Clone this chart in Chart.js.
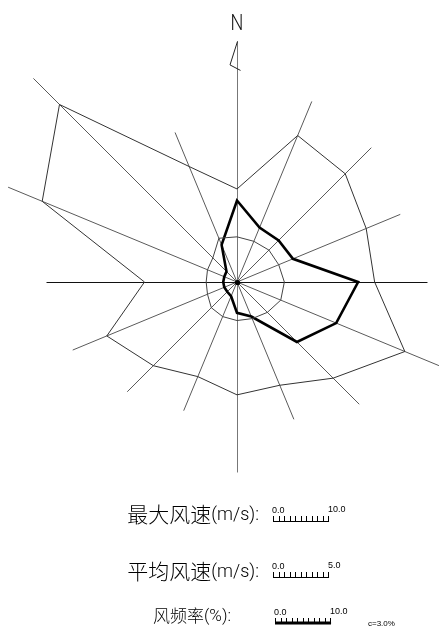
<!DOCTYPE html>
<html>
<head>
<meta charset="utf-8">
<script src="https://cdn.jsdelivr.net/npm/chart.js@4/dist/chart.umd.min.js"></script>
<style>
  html, body { margin: 0; padding: 0; background: #fff; }
  #wrap { width: 445px; height: 628px; position: relative; }
</style>
</head>
<body>
<div id="wrap"><canvas id="rose"></canvas></div>
<script>
// 16 compass sectors, clockwise from north
const directions = ['N','NNE','NE','ENE','E','ESE','SE','SSE','S','SSW','SW','WSW','W','WNW','NW','NNW'];
// maximum wind speed per sector (m/s)
const maxSpeed  = [16.9, 28.8, 27.8, 25.4, 25.0, 33.0, 24.7, 20.3, 20.5, 18.6, 21.5, 25.6, 16.8, 38.3, 45.6, 22.7];
// mean wind speed per sector (m/s)
const avgSpeed  = [4.1, 4.0, 4.1, 4.1, 4.3, 4.3, 3.9, 3.6, 3.5, 3.4, 3.3, 2.9, 2.8, 2.9, 3.1, 4.3];
// wind direction frequency per sector (%)
const frequency = [14.8, 10.7, 10.7, 11.0, 22.0, 19.5, 15.4, 6.8, 5.6, 2.8, 2.5, 2.5, 2.5, 2.5, 2.7, 7.3];
const calmPct = 3.0;

// legend rows: caption, unit, full-scale value of the ruler
const legendNames  = ['最大风速', '平均风速', '风频率'];
const legendUnits  = ['(m/s):', '(m/s):', '(%):'];
const legendFull   = [10.0, 5.0, 10.0];
const legendLabels = [['0.0', '10.0'], ['0.0', '5.0'], ['0.0', '10.0']];

// every ruler spans RULER units of the radial scale
const RULER = 10;
const toUnits = (arr, full) => arr.map(v => v * RULER / full);

const SPOKE_EXT = 6.7;   // how far a sector spoke runs past its max-speed vertex
const CROSS_LEN = 34.6;  // E, S, W arms of the compass cross
const NORTH_LEN = 43.7;  // north arm, carries the arrow

const roseDecor = {
  id: 'roseDecor',
  beforeDatasetsDraw(chart) {
    const s = chart.scales.r;
    const ctx = chart.ctx;
    const cx = s.xCenter, cy = s.yCenter;
    const maxU = toUnits(maxSpeed, legendFull[0]);
    ctx.save();
    // sector spokes
    ctx.lineWidth = 1;
    ctx.strokeStyle = '#5a5a5a';
    directions.forEach((d, i) => {
      if (i % 4 === 0) return;
      const p = s.getPointPositionForValue(i, maxU[i] + SPOKE_EXT);
      ctx.beginPath();
      ctx.moveTo(cx, cy);
      ctx.lineTo(p.x, p.y);
      ctx.stroke();
    });
    // compass cross
    const n = s.getPointPositionForValue(0, NORTH_LEN);
    const e = s.getPointPositionForValue(4, CROSS_LEN);
    const so = s.getPointPositionForValue(8, CROSS_LEN);
    const w = s.getPointPositionForValue(12, CROSS_LEN);
    ctx.strokeStyle = '#777';
    ctx.beginPath();
    ctx.moveTo(cx + 0.5, n.y);
    ctx.lineTo(cx + 0.5, so.y);
    ctx.stroke();
    ctx.strokeStyle = '#111';
    ctx.beginPath();
    ctx.moveTo(w.x, cy + 0.5);
    ctx.lineTo(e.x, cy + 0.5);
    ctx.stroke();
    // north arrow flag
    ctx.strokeStyle = '#222';
    ctx.beginPath();
    ctx.moveTo(cx + 0.5, n.y);
    ctx.lineTo(cx - 7, n.y + 23.5);
    ctx.lineTo(cx + 3.5, n.y + 29);
    ctx.stroke();
    ctx.fillStyle = '#111';
    ctx.font = '300 22px Roboto, "Liberation Sans", sans-serif';
    ctx.textAlign = 'center';
    ctx.textBaseline = 'middle';
    ctx.translate(cx, n.y - 16.5);
    ctx.scale(0.82, 1);
    ctx.fillText('N', 0, 0);
    ctx.restore();
  },
  afterDatasetsDraw(chart) {
    const s = chart.scales.r;
    const ctx = chart.ctx;
    ctx.save();
    ctx.fillStyle = '#000';
    ctx.beginPath();
    ctx.arc(s.xCenter + 0.5, s.yCenter + 0.5, 2.6, 0, Math.PI * 2);
    ctx.fill();
    ctx.restore();
  },
  afterDraw(chart) {
    const s = chart.scales.r;
    const ctx = chart.ctx;
    const rulerPx = s.getDistanceFromCenterForValue(RULER);
    const rows = [
      { textY: 514, barY: 521, barX: 273, textRight: 259, cjk: 21, lat: 18, thick: 1 },
      { textY: 571, barY: 577, barX: 273, textRight: 259, cjk: 21, lat: 18, thick: 1 },
      { textY: 616, barY: 623, barX: 275, textRight: 231, cjk: 17, lat: 17, thick: 3 }
    ];
    ctx.save();
    ctx.fillStyle = '#000';
    ctx.strokeStyle = '#000';
    rows.forEach((r, k) => {
      // caption: CJK part then the unit
      ctx.textBaseline = 'middle';
      ctx.textAlign = 'right';
      ctx.font = '300 ' + r.lat + 'px Roboto, "Liberation Sans", sans-serif';
      const unit = legendUnits[k];
      const uw = ctx.measureText(unit).width;
      ctx.fillText(unit, r.textRight, r.textY + 1);
      ctx.font = '300 ' + r.cjk + 'px "Noto Sans CJK SC", sans-serif';
      ctx.fillText(legendNames[k], r.textRight - uw, r.textY);
      // ruler
      ctx.lineWidth = 1;
      ctx.beginPath();
      for (let t = 0; t <= 10; t++) {
        const x = Math.round(r.barX + rulerPx * t / 10) + 0.5;
        ctx.moveTo(x, r.barY - 5);
        ctx.lineTo(x, r.barY);
      }
      ctx.stroke();
      ctx.lineWidth = r.thick;
      ctx.beginPath();
      ctx.moveTo(r.barX, r.barY + (r.thick === 1 ? 0.5 : 0));
      ctx.lineTo(r.barX + rulerPx + 1, r.barY + (r.thick === 1 ? 0.5 : 0));
      ctx.stroke();
      // ruler end labels
      ctx.font = '9px "Liberation Sans", sans-serif';
      ctx.textBaseline = 'alphabetic';
      ctx.textAlign = 'left';
      ctx.fillText(legendLabels[k][0], r.barX - 1, r.barY - 8);
      ctx.fillText(legendLabels[k][1], r.barX + rulerPx, r.barY - 9);
    });
    ctx.font = '8px "Liberation Sans", sans-serif';
    ctx.textAlign = 'left';
    ctx.textBaseline = 'alphabetic';
    ctx.fillText('c=' + calmPct.toFixed(1) + '%', 368, 626);
    ctx.restore();
  }
};

new Chart(document.getElementById('rose'), {
  type: 'radar',
  data: {
    labels: directions,
    datasets: [
      {
        label: '最大风速',
        data: toUnits(maxSpeed, legendFull[0]),
        borderColor: '#333', borderWidth: 1, fill: false, pointRadius: 0, tension: 0
      },
      {
        label: '平均风速',
        data: toUnits(avgSpeed, legendFull[1]),
        borderColor: '#444', borderWidth: 1, fill: false, pointRadius: 0, tension: 0
      },
      {
        label: '风频率',
        data: toUnits(frequency, legendFull[2]),
        borderColor: '#000', borderWidth: 2.6, borderJoinStyle: 'miter', fill: false, pointRadius: 0, tension: 0
      }
    ]
  },
  options: {
    responsive: true,
    maintainAspectRatio: false,
    animation: false,
    devicePixelRatio: 1,
    layout: { padding: { left: 30, right: 0, top: 0, bottom: 63 } },
    plugins: { legend: { display: false }, tooltip: { enabled: false } },
    scales: {
      r: {
        min: 0,
        max: 37.6,
        startAngle: 0,
        grid: { display: false },
        angleLines: { display: false },
        pointLabels: { display: false },
        ticks: { display: false }
      }
    }
  },
  plugins: [roseDecor]
});
</script>
</body>
</html>
